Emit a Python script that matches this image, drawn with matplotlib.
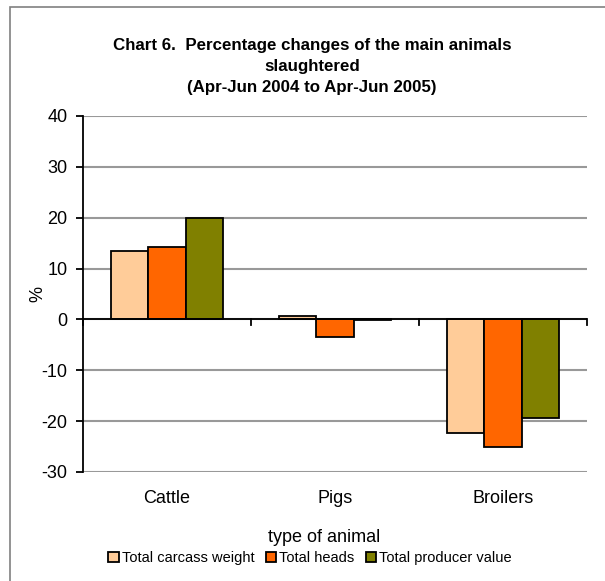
import matplotlib.pyplot as plt
import numpy as np
from matplotlib.patches import Rectangle, Patch

plt.rcParams['font.family'] = ['Liberation Sans', 'DejaVu Sans']

# data
animals = ['Cattle', 'Pigs', 'Broilers']
carcass_weight = [13.5, 0.7, -22.4]
total_heads = [14.3, -3.4, -25.0]
producer_value = [20.0, -0.2, -19.3]
series_names = ['Total carcass weight', 'Total heads', 'Total producer value']
colors = ['#FFCC99', '#FF6600', '#808000']
yticks = [-30, -20, -10, 0, 10, 20, 30, 40]

fig = plt.figure(figsize=(6.05, 5.81), dpi=100)
ax = fig.add_axes([83 / 605, 1 - 472 / 581, 504 / 605, 356 / 581])

# outer chart border (only left/top visible in the original)
fig.patches.append(Rectangle((10 / 605, -0.1), 1.2, 1 - 7 / 581 + 0.1,
                             transform=fig.transFigure, fill=False,
                             edgecolor='#808080', linewidth=1.2))

x = np.arange(len(animals))
w = 0.222
for i, (vals, c) in enumerate(zip([carcass_weight, total_heads, producer_value], colors)):
    ax.bar(x + (i - 1) * w, vals, width=w, color=c, edgecolor='black',
           linewidth=1.3, zorder=3)

ax.set_xlim(-0.5, 2.5)
ax.set_ylim(-30, 40)
ax.set_yticks(yticks)
ax.set_yticklabels([str(t) for t in yticks], fontsize=13)
ax.yaxis.grid(True, color='#999999', linewidth=1.5, zorder=0)
ax.axhline(0, color='black', linewidth=1.3, zorder=4)

for s in ['top', 'right', 'bottom']:
    ax.spines[s].set_visible(False)
ax.spines['left'].set_linewidth(1.3)
ax.tick_params(axis='y', length=5, width=1.3, direction='out', pad=6)

# category boundary ticks hanging below the zero line
ax.set_xticks([])
for b in [-0.5, 0.5, 1.5, 2.5]:
    ax.plot([b, b], [0, -1.0], color='black', linewidth=1.3, zorder=4, clip_on=False)
for xi, name in zip(x, animals):
    ax.text(xi, -35.3, name, ha='center', va='center', fontsize=13)

ax.set_ylabel('%', fontsize=13, labelpad=-3)

fig.text(312 / 605, 1 - 66.5 / 581,
         'Chart 6.  Percentage changes of the main animals\nslaughtered\n(Apr-Jun 2004 to Apr-Jun 2005)',
         ha='center', va='center', fontsize=12.2, fontweight='bold', linespacing=1.46)
fig.text(324 / 605, 1 - 538 / 581, 'type of animal', ha='center', va='center', fontsize=13)

handles = [Patch(facecolor=c, edgecolor='black', linewidth=1.3) for c in colors]
fig.legend(handles, series_names, loc='center', bbox_to_anchor=(310 / 605, 1 - 558 / 581),
           ncol=3, frameon=False, fontsize=10.5, handlelength=0.7, handleheight=0.7,
           handletextpad=0.2, columnspacing=0.8, borderaxespad=0)

fig.savefig('out.png', dpi=100)
